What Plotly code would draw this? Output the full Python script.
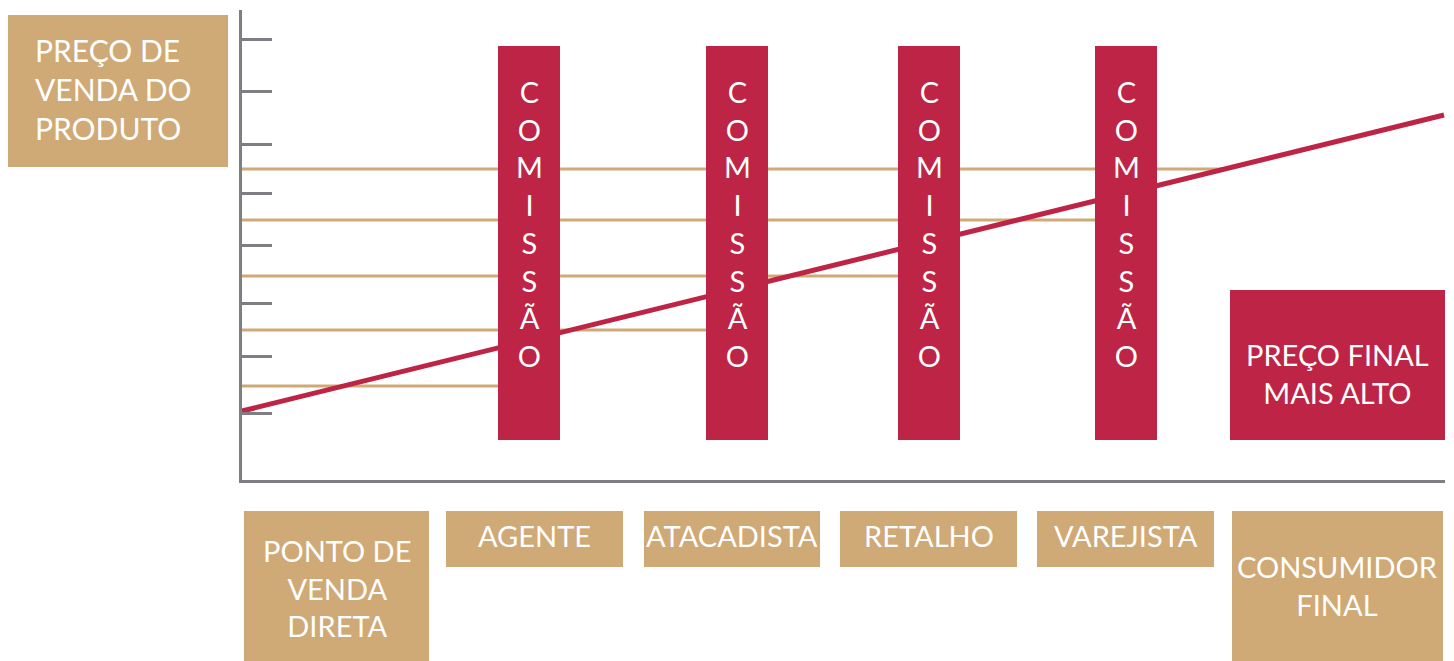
import plotly.graph_objects as go

# ---- data -------------------------------------------------------------
# Price scale: 1 unit = 10 px, zero at the corner of the price axis.
stages = [
    "PONTO DE<br>VENDA<br>DIRETA",
    "AGENTE",
    "ATACADISTA",
    "RETALHO",
    "VAREJISTA",
    "CONSUMIDOR<br>FINAL",
]
commission_label = "COMISSÃO"
price_levels = [9.4, 15.0, 20.4, 26.0, 31.1]          # price after each step
price_ticks = [6.7, 12.4, 17.7, 23.5, 28.7, 33.6, 38.9, 44.1]
price_line = [6.9, 36.5]                                # start / end of price growth
axis_title = "PREÇO DE<br>VENDA DO<br>PRODUTO"
final_label = "PREÇO FINAL<br>MAIS ALTO"

# ---- layout geometry ---------------------------------------------------
W, H = 1454, 661
X_RANGE = [-24.2, 121.2]
Y_RANGE = [-18.1, 48.0]
AXIS_X_END = 120.3
AXIS_Y_END = 47.0

stage_spans = [(0.2, 18.7), (20.4, 38.1), (40.2, 57.8),
               (59.8, 77.5), (79.5, 97.2), (99.0, 120.1)]
stage_top = -3.1
stage_bottom_short = -8.7
stage_bottom_tall = Y_RANGE[0]
tall_stages = {0, 5}

bar_spans = [(25.6, 31.8), (46.4, 52.6), (65.6, 71.8), (85.3, 91.5)]
bar_base, bar_top = 4.0, 43.4
comm_text_y = 25.7

final_span = (98.8, 120.3)
final_base, final_top = 4.0, 19.0
level_ends = [25.6, 46.4, 65.6, 85.3, 98.3]
title_box = (-23.4, -1.4, 31.3, 46.5)

TAN = "#CFA976"
RED = "#BE2445"
GRAY = "#7F7F83"
FONT = "Lato"


def rect(x0, x1, y0, y1, color):
    return go.Scatter(
        x=[x0, x1, x1, x0, x0], y=[y0, y0, y1, y1, y0],
        mode="lines", fill="toself", fillcolor=color,
        line=dict(width=0, color=color), hoverinfo="skip", showlegend=False,
        xaxis="x", yaxis="y",
    )


fig = go.Figure()

# tan reference price lines (drawn first, covered by the commission bars)
for lvl, xe in zip(price_levels, level_ends):
    fig.add_trace(go.Scatter(
        x=[0, xe], y=[lvl, lvl], mode="lines",
        line=dict(color=TAN, width=3), hoverinfo="skip", showlegend=False,
    ))

# rising price line
fig.add_trace(go.Scatter(
    x=[0, AXIS_X_END - 0.1], y=price_line, mode="lines",
    line=dict(color=RED, width=5), hoverinfo="skip", showlegend=False,
))

# commission bars
for x0, x1 in bar_spans:
    fig.add_trace(rect(x0, x1, bar_base, bar_top, RED))

# final price box
fig.add_trace(rect(final_span[0], final_span[1], final_base, final_top, RED))

# axis title box
fig.add_trace(rect(title_box[0], title_box[1], title_box[2], title_box[3], TAN))

# channel stage boxes
for i, (x0, x1) in enumerate(stage_spans):
    bottom = stage_bottom_tall if i in tall_stages else stage_bottom_short
    fig.add_trace(rect(x0, x1, stage_top, bottom, TAN))

annotations = []
comm_text = "<br>".join(list(commission_label))
for x0, x1 in bar_spans:
    annotations.append(dict(
        x=(x0 + x1) / 2, y=comm_text_y, xref="x", yref="y", text=comm_text,
        showarrow=False, font=dict(family=FONT, size=29, color="white"),
        xanchor="center", yanchor="middle", align="center",
    ))

annotations.append(dict(
    x=-20.95, y=39.15, xref="x", yref="y", text=axis_title, showarrow=False,
    font=dict(family=FONT, size=30, color="white"),
    xanchor="left", yanchor="middle", align="left",
))

annotations.append(dict(
    x=(final_span[0] + final_span[1]) / 2, y=10.7, xref="x", yref="y",
    text=final_label, showarrow=False,
    font=dict(family=FONT, size=29, color="white"),
    xanchor="center", yanchor="middle", align="center",
))

for i, ((x0, x1), name) in enumerate(zip(stage_spans, stages)):
    if i in tall_stages:
        ymid = -10.8 if i == 0 else -10.5
    else:
        ymid = -5.5
    annotations.append(dict(
        x=(x0 + x1) / 2, y=ymid, xref="x", yref="y", text=name,
        showarrow=False, font=dict(family=FONT, size=29, color="white"),
        xanchor="center", yanchor="middle", align="center",
    ))

# empty subplot that carries the visible price axis and its ticks
fig.add_trace(go.Scatter(x=[None], y=[None], xaxis="x2", yaxis="y2",
                         showlegend=False, hoverinfo="skip"))

x2_dom = [(-X_RANGE[0]) / (X_RANGE[1] - X_RANGE[0]),
          (AXIS_X_END - X_RANGE[0]) / (X_RANGE[1] - X_RANGE[0])]
y2_dom = [(-Y_RANGE[0]) / (Y_RANGE[1] - Y_RANGE[0]),
          (AXIS_Y_END - Y_RANGE[0]) / (Y_RANGE[1] - Y_RANGE[0])]

fig.update_layout(
    width=W, height=H,
    margin=dict(l=0, r=0, t=0, b=0, pad=0),
    paper_bgcolor="white", plot_bgcolor="rgba(0,0,0,0)",
    showlegend=False,
    xaxis=dict(domain=[0, 1], range=X_RANGE, visible=False, fixedrange=True),
    yaxis=dict(domain=[0, 1], range=Y_RANGE, visible=False, fixedrange=True),
    xaxis2=dict(domain=x2_dom, range=[0, AXIS_X_END], anchor="y2",
                showline=True, linecolor=GRAY, linewidth=3,
                showgrid=False, zeroline=False, showticklabels=False,
                ticks="", fixedrange=True),
    yaxis2=dict(domain=y2_dom, range=[0, AXIS_Y_END], anchor="x2",
                showline=True, linecolor=GRAY, linewidth=3,
                showgrid=False, zeroline=False, showticklabels=False,
                ticks="inside", ticklen=30, tickwidth=3, tickcolor=GRAY,
                tickmode="array", tickvals=price_ticks, fixedrange=True),
    annotations=annotations,
)

fig.write_html("out.html", config={"displayModeBar": False})
